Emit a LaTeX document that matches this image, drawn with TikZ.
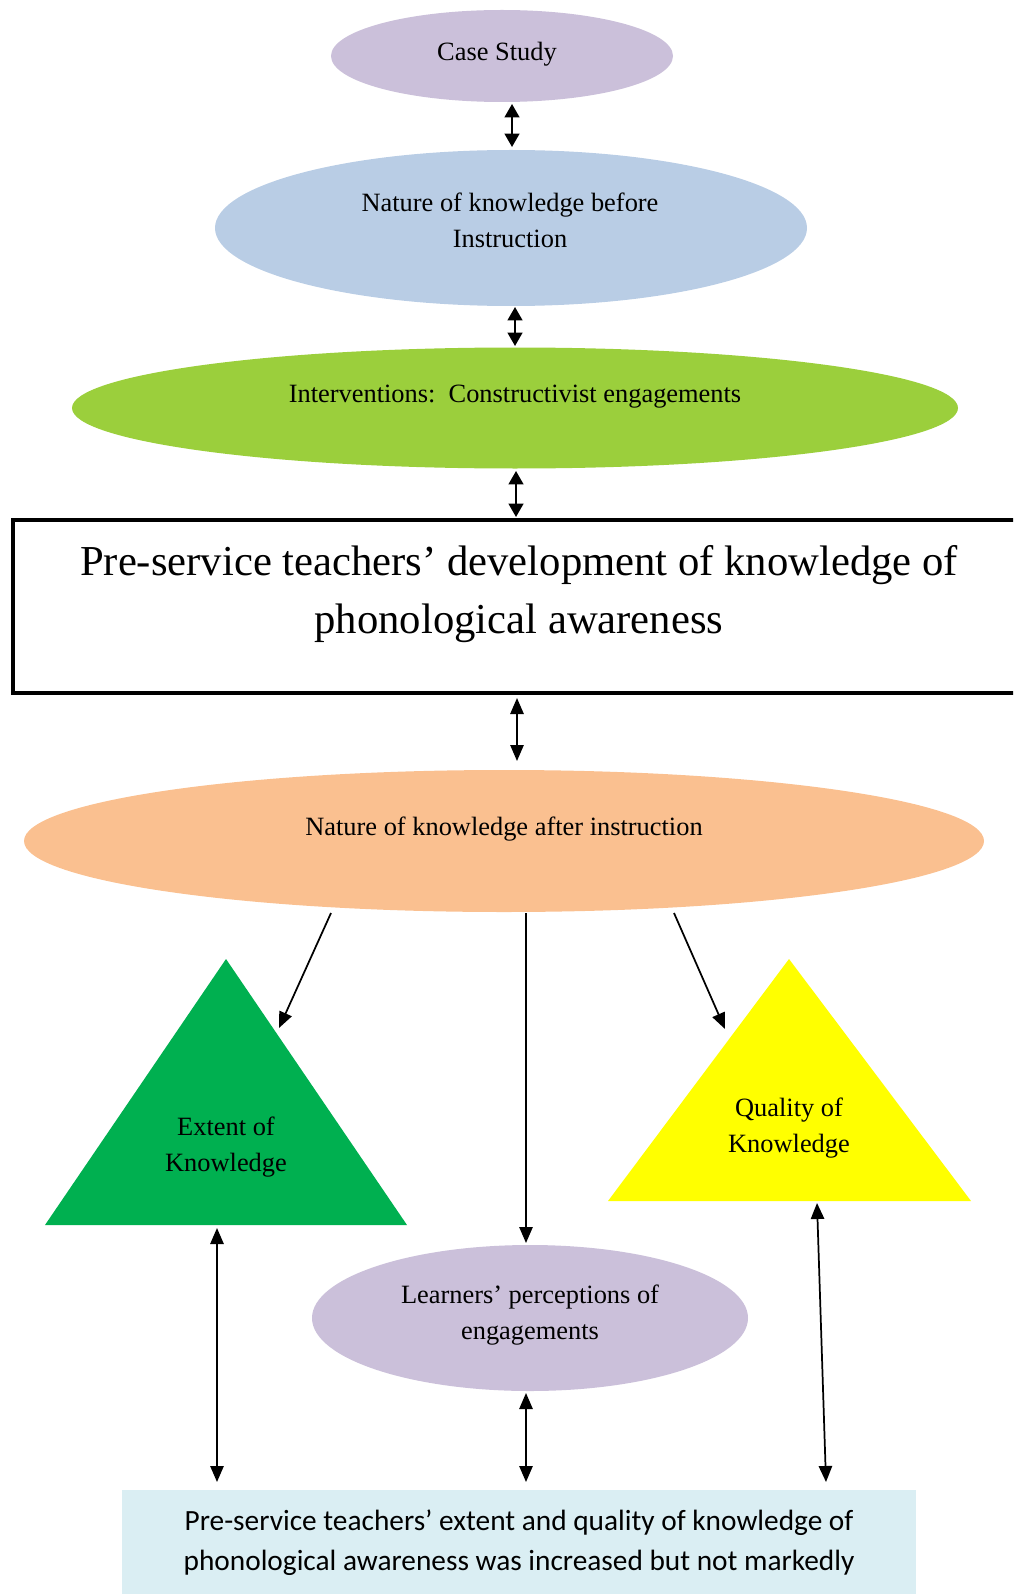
\documentclass[tikz,border=0pt]{standalone}
\usepackage{fontspec}
\setmainfont{Liberation Serif}
\newfontfamily\calfont{Carlito}
\usetikzlibrary{shapes.geometric,arrows.meta}
\definecolor{lav}{HTML}{CBC0DA}
\definecolor{lblue}{HTML}{B9CDE5}
\definecolor{lgreen}{HTML}{9BCF3C}
\definecolor{orng}{HTML}{FAC090}
\definecolor{dgreen}{HTML}{00B050}
\definecolor{yell}{HTML}{FFFF00}
\definecolor{pblue}{HTML}{DAEEF3}
\begin{document}
\begin{tikzpicture}[x=0.75pt,y=-0.75pt,
  oval/.style={ellipse,inner sep=0pt,draw=none},
  txt/.style={align=center,font=\fontsize{19.8}{27}\selectfont,inner sep=0pt},
  bigtxt/.style={align=center,font=\fontsize{32}{43.5}\selectfont,inner sep=0pt},
  caltxt/.style={align=center,font=\calfont\fontsize{22}{30}\selectfont,inner sep=0pt},
  dblthick/.style={{Triangle[length=10pt,width=11pt]}-{Triangle[length=10pt,width=11pt]},line width=1.6pt},
  dblthin/.style={{Triangle[length=12pt,width=10pt]}-{Triangle[length=12pt,width=10pt]},line width=1.3pt},
  sgl/.style={-{Triangle[length=12pt,width=10pt]},line width=1.3pt}]
\useasboundingbox (0,0) rectangle (1013,1594);
\clip (0,0) rectangle (1013,1594);

% ellipses
\node[oval,fill=lav,minimum width=256.5pt,minimum height=69pt] (cs) at (502,56) {};
\node[txt] (cst) at (497,54) {Case Study};
\node[oval,fill=lblue,minimum width=444pt,minimum height=117pt] (bef) at (511,228) {};
\node[txt] (beft) at (510,220) {Nature of knowledge before\\Instruction};
\node[oval,fill=lgreen,minimum width=664.5pt,minimum height=90.75pt] (intv) at (515,408) {};
\node[txt] (intvt) at (515,397) {Interventions:\ \ Constructivist engagements};

% rectangle
\node[draw,line width=3pt,minimum width=762.75pt,minimum height=129.75pt,inner sep=0pt] (dev) at (521.5,606.5) {};
\node[bigtxt] (devt) at (519,594) {Pre-service teachers’ development of knowledge of\\phonological awareness};

\node[oval,fill=orng,minimum width=720pt,minimum height=106.5pt] (aft) at (504,841) {};
\node[txt] (aftt) at (504,829) {Nature of knowledge after instruction};

% triangles
\coordinate (gtA) at (226,959);
\coordinate (gtR) at (407,1225);
\coordinate (gtL) at (45,1225);
\fill[dgreen] (gtA) -- (gtR) -- (gtL) -- cycle;
\node[txt] (gtt) at (226,1147) {Extent of\\Knowledge};
\coordinate (ytA) at (789,959);
\coordinate (ytR) at (971,1201);
\coordinate (ytL) at (608,1201);
\fill[yell] (ytA) -- (ytR) -- (ytL) -- cycle;
\node[txt] (ytt) at (789,1128) {Quality of\\Knowledge};

\node[oval,fill=lav,minimum width=327pt,minimum height=109.5pt] (lrn) at (530,1318) {};
\node[txt] (lrnt) at (530,1315) {Learners’ perceptions of\\engagements};

% bottom box
\node[fill=pblue,minimum width=595.5pt,minimum height=82.5pt,inner sep=0pt] (res) at (519,1545) {};
\node[caltxt] (rest) at (519,1543) {Pre-service teachers’ extent and quality of knowledge of\\phonological awareness was increased but not markedly};

% connector end points
\coordinate (a1s) at (512,104); \coordinate (a1e) at (512,147);
\coordinate (a2s) at (515,307); \coordinate (a2e) at (515,346);
\coordinate (a3s) at (516,471); \coordinate (a3e) at (516,517);
\coordinate (a4s) at (517,698); \coordinate (a4e) at (517,761);
\coordinate (b1s) at (331,913); \coordinate (b1e) at (279,1028);
\coordinate (b2s) at (526,913); \coordinate (b2e) at (526,1243);
\coordinate (b3s) at (674,913); \coordinate (b3e) at (725,1029);
\coordinate (c1s) at (217,1228); \coordinate (c1e) at (217,1482);
\coordinate (c2s) at (526,1393); \coordinate (c2e) at (526,1482);
\coordinate (c3s) at (817,1203); \coordinate (c3e) at (826,1482);

\draw[dblthick] (a1s) -- (a1e);
\draw[dblthick] (a2s) -- (a2e);
\draw[dblthick] (a3s) -- (a3e);
\draw[dblthin] (a4s) -- (a4e);
\draw[sgl] (b1s) -- (b1e);
\draw[sgl] (b2s) -- (b2e);
\draw[sgl] (b3s) -- (b3e);
\draw[dblthin] (c1s) -- (c1e);
\draw[dblthin] (c2s) -- (c2e);
\draw[dblthin] (c3s) -- (c3e);
\end{tikzpicture}
\end{document}
